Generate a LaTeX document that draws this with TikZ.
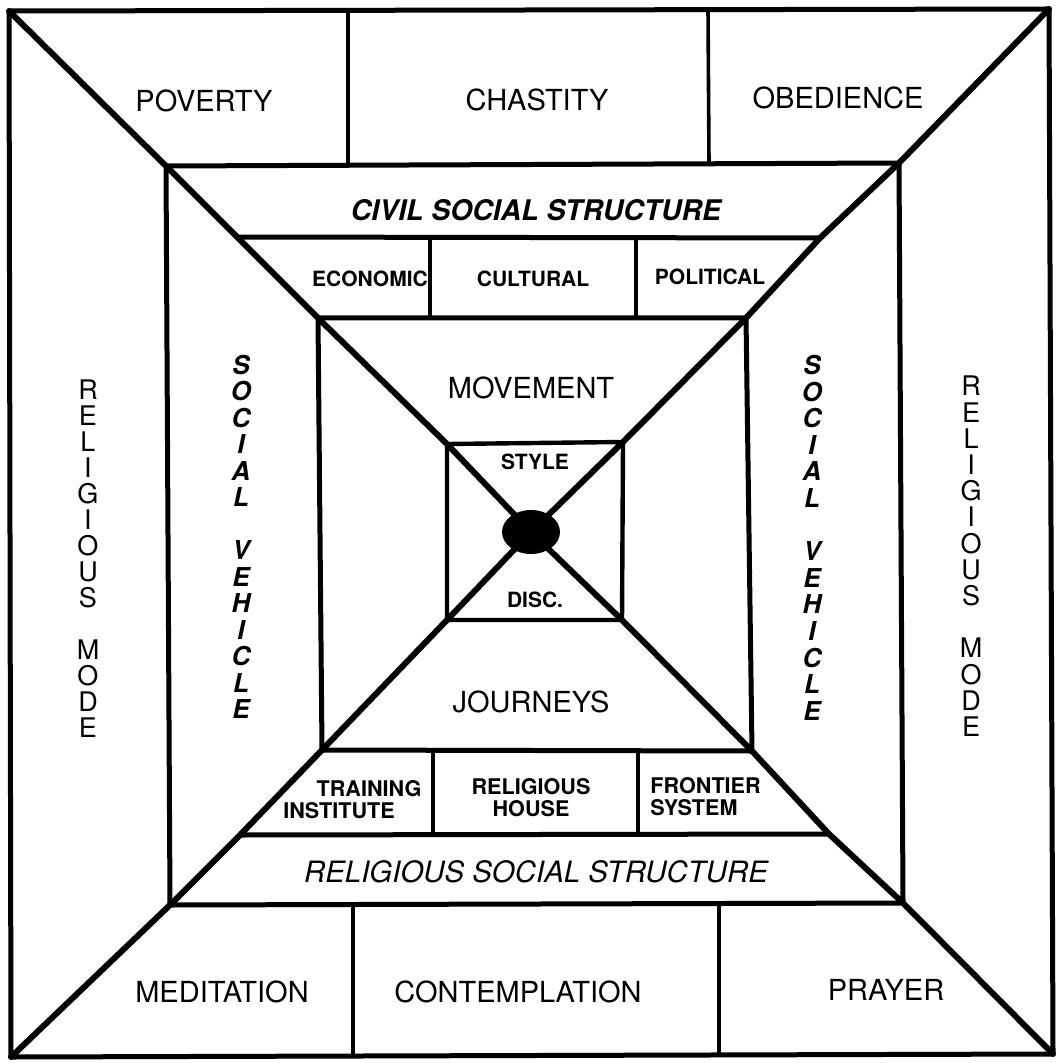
\documentclass[tikz,border=0pt]{standalone}
\usepackage{fontspec}
\setmainfont{TeX Gyre Heros}
\usetikzlibrary{shapes.geometric}
\begin{document}
\begin{tikzpicture}[x=0.5pt,y=-0.5pt,line join=round,line cap=round,
  frame/.style={line width=2.5pt},
  diag/.style={line width=3pt},
  divider/.style={line width=1.8pt},
  lbl/.style={font=\fontsize{14.5}{16}\selectfont,inner sep=0pt},
  sub/.style={font=\fontsize{10.5}{11}\selectfont\bfseries,inner sep=0pt,align=center},
  twoline/.style={font=\fontsize{10.8}{11}\selectfont\bfseries,inner sep=0pt},
  band/.style={font=\fontsize{14.2}{16}\selectfont\bfseries\itshape,inner sep=0pt},
  rband/.style={font=\fontsize{14.7}{16}\selectfont\itshape,inner sep=0pt},
  modeletter/.style={font=\fontsize{13.5}{14}\selectfont,inner sep=0pt},
  vehletter/.style={font=\fontsize{13}{14}\selectfont\bfseries\itshape,inner sep=0pt}]
\useasboundingbox (0,0) rectangle (1056,1063);
\fill[white] (0,0) rectangle (1056,1063);

% corner points of the nested frames
\coordinate (o1) at (9,11);    \coordinate (o2) at (1049,9);
\coordinate (o3) at (1053,1054); \coordinate (o4) at (11,1057);
\coordinate (a1) at (166,166); \coordinate (a2) at (899,163);
\coordinate (a3) at (903,903); \coordinate (a4) at (170,905);
\coordinate (c1) at (237,237); \coordinate (c2) at (820,238);
\coordinate (r3) at (829,834); \coordinate (r4) at (240,835);
\coordinate (m1) at (318,318); \coordinate (m2) at (746,318);
\coordinate (m3) at (752,751); \coordinate (m4) at (322,750);
\coordinate (i1) at (447,444); \coordinate (i2) at (623,442);
\coordinate (i3) at (622,620); \coordinate (i4) at (447,620);

% frames
\draw[frame] (o1) -- (o2) -- (o3) -- (o4) -- cycle;
\draw[frame] (a1) -- (a2) -- (a3) -- (a4) -- cycle;
\draw[frame] (c1) -- (c2);
\draw[frame] (r4) -- (r3);
\draw[frame] (m1) -- (m2) -- (m3) -- (m4) -- cycle;
\draw[line width=2.2pt] (i1) -- (i2) -- (i3) -- (i4) -- cycle;

% the hub
\node[ellipse,fill=black,inner sep=0pt,minimum width=29pt,minimum height=22pt] (hub) at (531,532) {};

% diagonals through every corner into the hub
\draw[diag] (o1) -- (a1) -- (c1) -- (m1) -- (i1) -- (hub.center);
\draw[diag] (o2) -- (a2) -- (c2) -- (m2) -- (i2) -- (hub.center);
\draw[diag] (o3) -- (a3) -- (r3) -- (m3) -- (i3) -- (hub.center);
\draw[diag] (o4) -- (a4) -- (r4) -- (m4) -- (i4) -- (hub.center);

% cell dividers
\draw[divider] (348,10) -- (348,166);
\draw[divider] (708,10) -- (709,164);
\draw[divider] (353,905) -- (353,1056);
\draw[divider] (719,903) -- (719,1055);
\draw[divider] (430,238) -- (430,318);
\draw[divider] (636,238) -- (636,318);
\draw[divider] (433,750) -- (433,834);
\draw[divider] (638,751) -- (638,834);

% outer ring
\node[lbl] (poverty) at (204,101) {POVERTY};
\node[lbl] (chastity) at (537,100) {CHASTITY};
\node[lbl] (obedience) at (838,98) {OBEDIENCE};
\node[lbl] (meditation) at (222,992) {MEDITATION};
\node[lbl] (contemplation) at (518,992) {CONTEMPLATION};
\node[lbl] (prayer) at (886,990) {PRAYER};

% structure bands
\node[band] (civil) at (536,210) {CIVIL SOCIAL STRUCTURE};
\node[sub] (economic) at (370,279) {ECONOMIC};
\node[sub] (cultural) at (533,279) {CULTURAL};
\node[sub] (political) at (710,277) {POLITICAL};
\node[rband] (religious) at (536,872) {RELIGIOUS SOCIAL STRUCTURE};
\node[twoline] (training) at (369,789) {TRAINING};
\node[twoline] (institute) at (339,811) {INSTITUTE};
\node[twoline,align=center] (house) at (531,798) {RELIGIOUS\\HOUSE};
\node[twoline,align=left,anchor=west] (frontier) at (650,797) {FRONTIER\\SYSTEM};

% inner squares
\node[lbl] (movement) at (531,388) {MOVEMENT};
\node[lbl] (journeys) at (531,702) {JOURNEYS};
\node[sub] (style) at (535,462) {STYLE};
\node[sub] (disc) at (535,600) {DISC.};

% stacked side labels
\foreach \ch/\s in {R/0,E/1,L/2,I/3,G/4,I/5,O/6,U/7,S/8,M/10,O/11,D/12,E/13}{
  \node[modeletter] (rml\s) at (88,390+26*\s) {\ch};
  \node[modeletter] (rmr\s) at (971,386+26.2*\s) {\ch};
}
\foreach \ch/\s in {S/0,O/1,C/2,I/3,A/4,L/5,V/7,E/8,H/9,I/10,C/11,L/12,E/13}{
  \node[vehletter] (svl\s) at (241,365+26.5*\s) {\ch};
  \node[vehletter] (svr\s) at (812,365+26.6*\s) {\ch};
}
\end{tikzpicture}
\end{document}
